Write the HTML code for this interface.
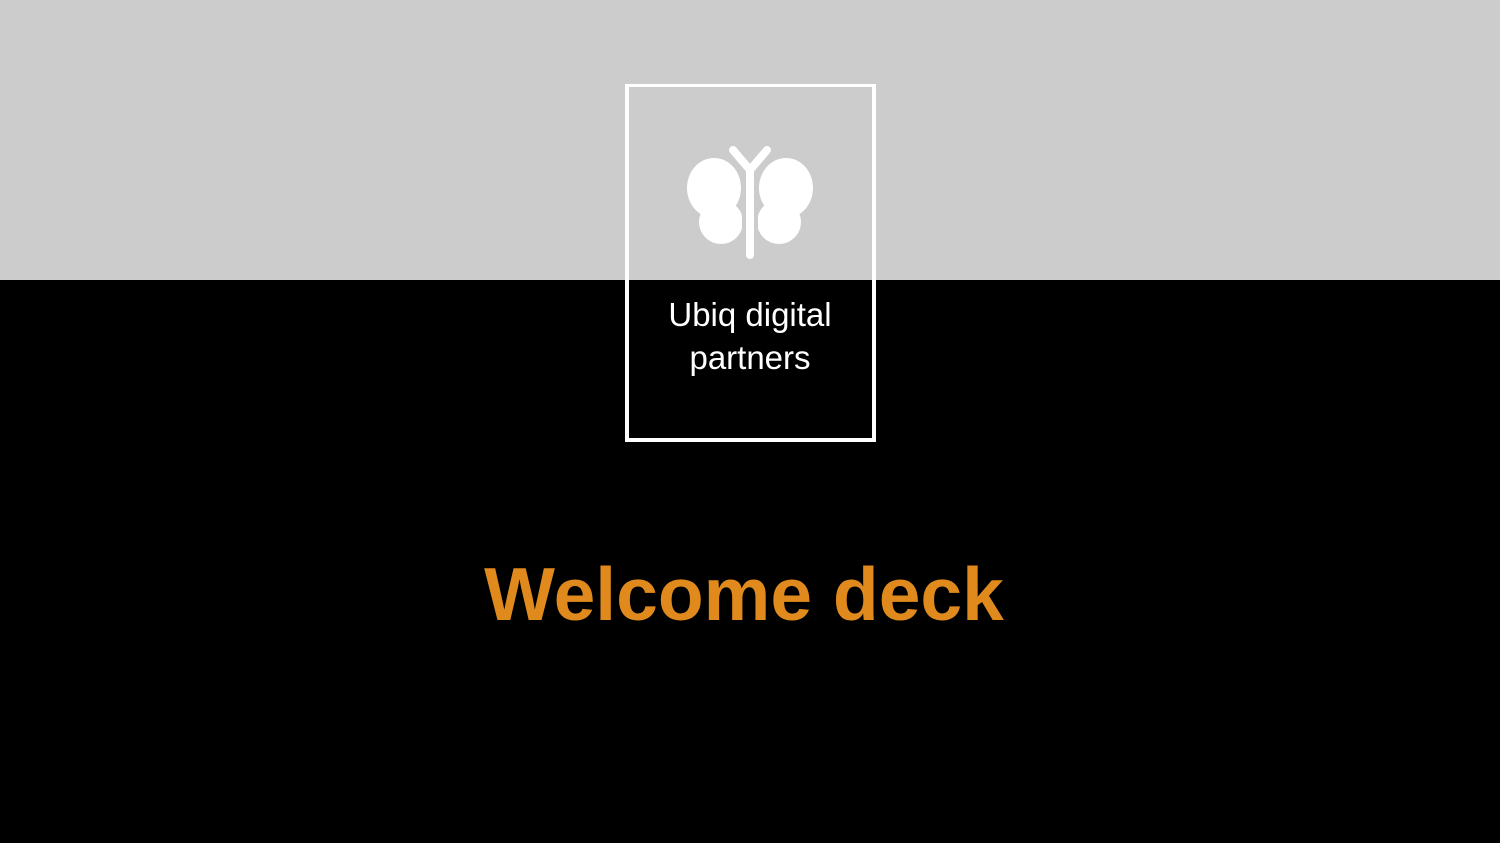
<!DOCTYPE html>
<html><head><meta charset="utf-8"><style>
html,body{margin:0;padding:0;width:1500px;height:843px;overflow:hidden;background:#000;font-family:"Liberation Sans",sans-serif}
.top{position:absolute;left:0;top:0;width:1500px;height:280px;background:#cccccc}
.box{position:absolute;left:625px;top:84px;width:243px;height:351px;border:4px solid #fff;border-top-width:3px}
.t1{position:absolute;left:0;width:1500px;text-align:center;color:#fff;font-size:33px}
.title{position:absolute;left:-6px;width:1500px;top:549px;text-align:center;color:#e08a1e;font-weight:bold;font-size:75px;line-height:90px}
</style></head><body>
<div class="top"></div>
<div class="box"></div>
<svg style="position:absolute;left:0;top:0" width="1500" height="843">
<g fill="#fff" stroke="none">
<ellipse cx="714" cy="188" rx="27" ry="30"/>
<circle cx="721" cy="222" r="22"/>
<ellipse cx="786" cy="188" rx="27" ry="30"/>
<circle cx="779" cy="222" r="22"/>
</g>
<rect x="742" y="150" width="16" height="110" fill="#cccccc"/>
<g stroke="#fff" stroke-width="8" stroke-linecap="round" fill="none">
<line x1="750" y1="170" x2="750" y2="255"/>
<polyline points="733,150 750,170 767,150"/>
</g>
</svg>
<div class="t1" style="top:296px">Ubiq digital</div>
<div class="t1" style="top:339px">partners</div>
<div class="title">Welcome deck</div>
</body></html>
